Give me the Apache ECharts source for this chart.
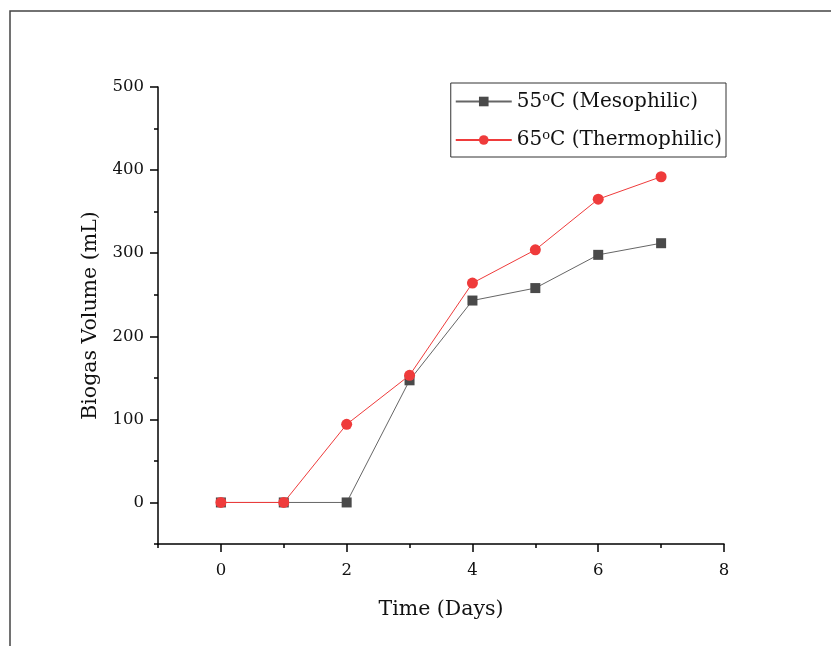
<!DOCTYPE html>
<html>
<head>
<meta charset="UTF-8"/>
<script src="https://cdn.jsdelivr.net/npm/echarts@6/dist/echarts.min.js"></script>
<style>
  html, body { margin: 0; padding: 0; background: #fff; }
  #c { width: 831px; height: 646px; }
</style>
</head>
<body>
<div id="c"></div>
<script>
// data
const days = [0, 1, 2, 3, 4, 5, 6, 7];
const meso = [0, 0, 0, 147, 243, 258, 298, 312];
const thermo = [0, 0, 94, 153, 264, 304, 365, 392];
const xMajor = [0, 2, 4, 6, 8];
const xMinor = [-1, 1, 3, 5, 7];
const yMajor = [0, 100, 200, 300, 400, 500];
const yMinor = [-50, 50, 150, 250, 350, 450];

const FONT = "'DejaVu Serif', 'Liberation Serif', serif";
const AXIS = '#000';

const chart = echarts.init(document.getElementById('c'), null, { renderer: 'canvas' });

const pair = (ys) => days.map((d, i) => [d, ys[i]]);

chart.setOption({
  animation: false,
  backgroundColor: '#fff',
  grid: { left: 158, top: 87, width: 566, height: 457 },
  graphic: [{
    type: 'rect', z: -1, silent: true,
    shape: { x: 10, y: 11, width: 840, height: 660 },
    style: { fill: 'none', stroke: '#444', lineWidth: 1.5 }
  }],
  legend: {
    right: 105, top: 83,
    orient: 'vertical',
    itemWidth: 56, itemHeight: 12, itemGap: 18,
    padding: [8, 4, 7, 4],
    borderColor: '#333', borderWidth: 1,
    textStyle: {
      fontFamily: FONT, fontSize: 20, color: '#111',
      rich: {
        sup: { fontFamily: FONT, fontSize: 13, verticalAlign: 'top', padding: [0, 0, 8, 0], color: '#111' }
      }
    },
    formatter: (name) => name.replace('o', '{sup|o}'),
    data: ['55oC (Mesophilic)', '65oC (Thermophilic)']
  },
  xAxis: [{
    // long ticks + labels on even days
    type: 'value', min: -1, max: 8, interval: 1,
    name: 'Time (Days)', nameLocation: 'middle', nameGap: 55,
    nameTextStyle: { fontFamily: FONT, fontSize: 20.5, color: '#111' },
    axisLine: { show: true, onZero: false, lineStyle: { color: AXIS, width: 1.5 } },
    axisTick: { show: true, customValues: xMajor, length: 8, lineStyle: { color: AXIS, width: 1.5 } },
    axisLabel: { customValues: xMajor, fontFamily: FONT, fontSize: 16.5, color: '#111', margin: 18 },
    splitLine: { show: false }
  }, {
    // short ticks on odd days
    type: 'value', min: -1, max: 8, interval: 1, position: 'bottom',
    axisLine: { show: false, onZero: false },
    axisTick: { show: true, customValues: xMinor, length: 4, lineStyle: { color: AXIS, width: 1.5 } },
    axisLabel: { show: false },
    splitLine: { show: false }
  }],
  yAxis: [{
    type: 'value', min: -50, max: 500, interval: 50,
    name: 'Biogas Volume (mL)', nameLocation: 'middle', nameGap: 54,
    nameTextStyle: { fontFamily: FONT, fontSize: 20.5, color: '#111' },
    axisLine: { show: true, onZero: false, lineStyle: { color: AXIS, width: 1.5 } },
    axisTick: { show: true, customValues: yMajor, length: 8, lineStyle: { color: AXIS, width: 1.5 } },
    axisLabel: { customValues: yMajor, fontFamily: FONT, fontSize: 16.5, color: '#111', margin: 14 },
    splitLine: { show: false }
  }, {
    type: 'value', min: -50, max: 500, interval: 50, position: 'left',
    axisLine: { show: false, onZero: false },
    axisTick: { show: true, customValues: yMinor, length: 4, lineStyle: { color: AXIS, width: 1.5 } },
    axisLabel: { show: false },
    splitLine: { show: false }
  }],
  series: [{
    name: '55oC (Mesophilic)', type: 'line',
    data: pair(meso),
    symbol: 'rect', symbolSize: 10,
    itemStyle: { color: '#4a4a4a' },
    lineStyle: { color: '#666', width: 1 },
    z: 2
  }, {
    name: '65oC (Thermophilic)', type: 'line',
    data: pair(thermo),
    symbol: 'circle', symbolSize: 11,
    itemStyle: { color: '#ef3b3b' },
    lineStyle: { color: '#ef3b3b', width: 1 },
    z: 3
  }]
});
</script>
</body>
</html>
